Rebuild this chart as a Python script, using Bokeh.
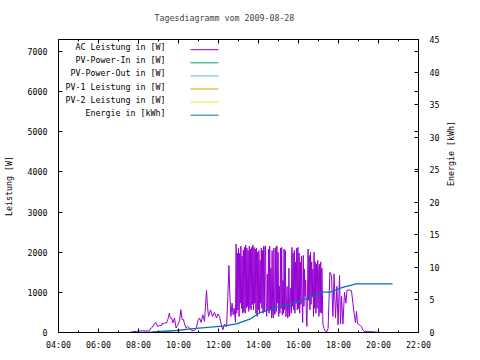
import math
from bokeh.plotting import figure
from bokeh.models import Range1d, LinearAxis, FixedTicker, ColumnDataSource, CustomLabelingPolicy
from bokeh.embed import file_html
from bokeh.resources import INLINE
from bokeh.core.properties import value

# ---------------- data ----------------
title_text = "Tagesdiagramm vom 2009-08-28"
hour_ticks = [4, 6, 8, 10, 12, 14, 16, 18, 20, 22]
hour_labels = ["04:00", "06:00", "08:00", "10:00", "12:00", "14:00",
               "16:00", "18:00", "20:00", "22:00"]
power_ticks = [0, 1000, 2000, 3000, 4000, 5000, 6000, 7000]
energy_ticks = [0, 5, 10, 15, 20, 25, 30, 35, 40, 45]

series_names = ["AC Leistung in [W]", "PV-Power-In in [W]", "PV-Power-Out in [W]",
                "PV-1 Leistung in [W]", "PV-2 Leistung in [W]", "Energie in [kWh]"]
series_colors = ["#9400D3", "#009E73", "#56B4E9", "#E69F00", "#F0E442", "#0072B2"]

# AC power, morning (hours, W)
ac_h_morning = [7.57, 7.65, 7.77, 7.90, 8.02, 8.10, 8.20, 8.35, 8.45, 8.55,
                8.60, 8.70, 8.80, 8.87, 8.95, 9.05, 9.15, 9.20, 9.25, 9.32,
                9.40, 9.47, 9.54, 9.60, 9.66, 9.72, 9.80, 9.88, 9.95, 10.05,
                10.12, 10.18, 10.25, 10.30, 10.38, 10.46, 10.55, 10.65, 10.75, 10.82,
                10.90, 10.97, 11.05, 11.13, 11.22, 11.30, 11.40, 11.45, 11.50, 11.60,
                11.70, 11.80, 11.90, 11.97, 12.05, 12.14, 12.22, 12.30, 12.40, 12.47,
                12.52, 12.57, 12.62, 12.68, 12.73, 12.78]
ac_w_morning = [0, 10, 25, 25, 35, 45, 40, 40, 40, 40,
                100, 130, 230, 250, 150, 175, 175, 240, 210, 240,
                240, 330, 480, 360, 360, 240, 360, 110, 175, 290,
                570, 320, 320, 210, 110, 150, 110, 50, 50, 60,
                120, 290, 360, 250, 440, 275, 1050, 650, 400, 565,
                400, 500, 360, 465, 400, 190, 70, 210, 140, 900,
                1670, 930, 400, 730, 440, 610]

# AC power, midday (strongly fluctuating)
ac_h_midday = [12.85, 12.88, 12.91, 12.94, 12.97, 13.00, 13.03, 13.06, 13.09, 13.12,
               13.15, 13.18, 13.21, 13.24, 13.27, 13.30, 13.33, 13.36, 13.39, 13.42,
               13.45, 13.48, 13.51, 13.54, 13.57, 13.60, 13.63, 13.66, 13.69, 13.72,
               13.75, 13.78, 13.81, 13.84, 13.87, 13.90, 13.93, 13.96, 13.99, 14.02,
               14.05, 14.08, 14.11, 14.14, 14.17, 14.20, 14.23, 14.26, 14.29, 14.32,
               14.35, 14.38, 14.41, 14.44, 14.47, 14.50, 14.53, 14.56, 14.59, 14.62,
               14.65, 14.68, 14.71, 14.74, 14.77, 14.80, 14.83, 14.86, 14.89, 14.92,
               14.95, 14.98, 15.01, 15.04, 15.07, 15.10, 15.13, 15.16, 15.19, 15.22,
               15.25, 15.28, 15.31, 15.34, 15.37, 15.40, 15.43, 15.46, 15.49, 15.52,
               15.55, 15.58, 15.61, 15.64, 15.67, 15.70, 15.73, 15.76, 15.79, 15.82,
               15.85, 15.88, 15.91, 15.94, 15.97, 16.00, 16.03, 16.06, 16.09, 16.12,
               16.15, 16.18, 16.21, 16.24, 16.27, 16.30, 16.33, 16.36, 16.39, 16.42,
               16.45, 16.48, 16.51, 16.54, 16.57, 16.60, 16.63, 16.66, 16.69, 16.72,
               16.75, 16.78, 16.81, 16.84, 16.87, 16.90, 16.93, 16.96, 16.99, 17.02,
               17.05, 17.08, 17.11, 17.14, 17.17, 17.22]
ac_w_midday = [250, 2200, 480, 1980, 560, 2100, 400, 1980, 730, 2150,
               600, 1900, 480, 2050, 520, 2120, 480, 2180, 610, 2100,
               650, 2040, 525, 2150, 600, 2080, 565, 2120, 700, 2180,
               560, 2120, 730, 2080, 480, 2100, 400, 2000, 560, 2040,
               480, 1800, 730, 2100, 600, 2040, 480, 2150, 520, 2120,
               2160, 600, 400, 1450, 560, 2080, 480, 2150, 565, 1600,
               360, 2040, 480, 360, 2100, 450, 480, 2120, 520, 2160,
               730, 2000, 400, 1150, 480, 2100, 600, 2120, 440, 1300,
               480, 2080, 560, 2040, 400, 730, 1150, 360, 480, 1600,
               400, 700, 1100, 480, 2120, 650, 1980, 565, 2050, 480,
               1760, 730, 2100, 560, 2120, 600, 1980, 480, 1760, 700,
               1900, 730, 250, 1920, 650, 1580, 900, 1300, 480, 150,
               1000, 2080, 800, 1920, 565, 2000, 700, 1760, 900, 1580,
               400, 2000, 600, 1760, 480, 1700, 600, 1800, 1580, 400,
               1700, 500, 1760, 480, 1600, 210]

# AC power, evening
ac_h_evening = [17.28, 17.35, 17.42, 17.48, 17.57, 17.65, 17.72, 17.78, 17.85, 17.92,
                17.98, 18.05, 18.10, 18.15, 18.22, 18.30, 18.37, 18.43, 18.55, 18.65,
                18.72, 18.78, 18.85, 18.90, 18.95, 19.05, 19.15, 19.22, 19.32, 19.68,
                19.85, 20.02, 20.18]
ac_w_evening = [100, 20, 20, 100, 1500, 1420, 400, 1460, 360, 1150,
                190, 1420, 210, 900, 210, 1000, 730, 1060, 1060, 1040,
                730, 480, 250, 525, 220, 190, 140, 60, 20, 20,
                10, 5, 0]

# daily energy (hours, kWh)
en_h = [7.6, 8.6, 9.1, 9.9, 10.6, 11.6, 12.2, 12.9, 13.6, 14.1, 14.6, 14.85, 15.35,
        15.85, 16.35, 16.85, 17.2, 17.6, 18.1, 18.35, 18.7, 18.85, 20.7]
en_kwh = [0, 0.05, 0.15, 0.31, 0.57, 0.81, 0.97, 1.34, 2.1, 3.1, 3.5, 3.9, 4.15,
          4.56, 5.18, 5.68, 6.19, 6.19, 6.8, 7.06, 7.33, 7.48, 7.48]

ac_h = ac_h_morning + ac_h_midday + ac_h_evening
ac_w = ac_w_morning + ac_w_midday + ac_w_evening
n = min(len(ac_h), len(ac_w))
ac_h, ac_w = ac_h[:n], ac_w[:n]

# ---------------- styling ----------------
FONT = "DejaVu Sans Mono"
FS = "8.3px"
Y_MAX = 7300
E_MAX = 45

p = figure(frame_width=360, frame_height=293,
           x_range=Range1d(4, 22), y_range=Range1d(0, Y_MAX),
           output_backend="svg", toolbar_location=None,
           min_border_left=50, min_border_right=54,
           min_border_top=39, min_border_bottom=20)
p.extra_y_ranges = {"en": Range1d(0, E_MAX)}
p.background_fill_color = "white"
p.border_fill_color = "white"
p.outline_line_color = "black"
p.outline_line_alpha = 1.0
p.xgrid.visible = False
p.ygrid.visible = False

p.title.text = title_text
p.title.align = "left"
p.title.offset = 96
p.title.text_font = FONT
p.title.text_font_size = FS
p.title.text_font_style = "normal"
p.title.standoff = 13

def style_axis(ax):
    ax.axis_line_color = "black"
    ax.major_tick_line_color = "black"
    ax.minor_tick_line_color = "black"
    ax.major_tick_out = 0
    ax.minor_tick_out = 0
    ax.major_label_text_font = FONT
    ax.major_label_text_font_size = FS
    ax.major_label_text_color = "black"
    ax.axis_label_text_font = FONT
    ax.axis_label_text_font_size = FS
    ax.axis_label_text_font_style = "normal"
    ax.axis_label_text_color = "black"

xticker = FixedTicker(ticks=hour_ticks, minor_ticks=list(range(5, 22, 2)))
xa = p.xaxis[0]
xa.ticker = xticker
xa.major_label_overrides = {t: l for t, l in zip(hour_ticks, hour_labels)}
style_axis(xa)
xa.major_tick_in = 4
xa.minor_tick_in = 2
xa.major_label_standoff = 7

top = LinearAxis(ticker=FixedTicker(ticks=hour_ticks, minor_ticks=list(range(5, 22, 2))))
style_axis(top)
top.major_tick_in = 4
top.minor_tick_in = 2
top.major_label_standoff = 0
top.major_label_policy = CustomLabelingPolicy(
    code="for (const i of Array.from(indices)) indices.unset(i); return indices")
p.add_layout(top, "above")

ya = p.yaxis[0]
ya.ticker = FixedTicker(ticks=power_ticks, minor_ticks=[])
style_axis(ya)
ya.major_tick_in = 4
ya.minor_tick_in = 0
ya.major_label_standoff = 11
ya.axis_label = "Leistung [W]"
ya.axis_label_standoff = 11

mirror = [t * E_MAX / Y_MAX for t in power_ticks]
ra = LinearAxis(y_range_name="en", axis_label="Energie [kWh]",
                ticker=FixedTicker(ticks=energy_ticks, minor_ticks=mirror))
style_axis(ra)
ra.major_tick_in = 4
ra.minor_tick_in = 4
ra.major_label_standoff = 11
ra.axis_label_standoff = 9
ra.axis_label_orientation = math.pi / 2
p.add_layout(ra, "right")

# data lines
p.line(ac_h, ac_w, line_color=series_colors[0], line_width=1)
p.line(en_h, en_kwh, line_color=series_colors[5], line_width=1.3, y_range_name="en")

# key (gnuplot style: text right-aligned, sample line to the right)
px_w = 360 / 18.0
px_h = 293 / Y_MAX
row0 = Y_MAX - 7.7 / px_h
row_step = 13.1 / px_h
rows_y = [row0 - i * row_step for i in range(len(series_names))]
txt_x = 4 + 107 / px_w
line_x0 = 4 + 132 / px_w
line_x1 = 4 + 160 / px_w
p.text(x=[txt_x] * len(series_names), y=rows_y, text=series_names,
       text_font=value(FONT), text_font_size=value(FS), text_color="black",
       text_align="right", text_baseline="middle")
key = ColumnDataSource(dict(x0=[line_x0] * 6, x1=[line_x1] * 6,
                            y=[r - 2.5 / px_h for r in rows_y], c=series_colors))
p.segment(x0="x0", y0="y", x1="x1", y1="y", line_color="c", line_width=1, source=key)

open("out.html", "w").write(file_html(p, INLINE))
